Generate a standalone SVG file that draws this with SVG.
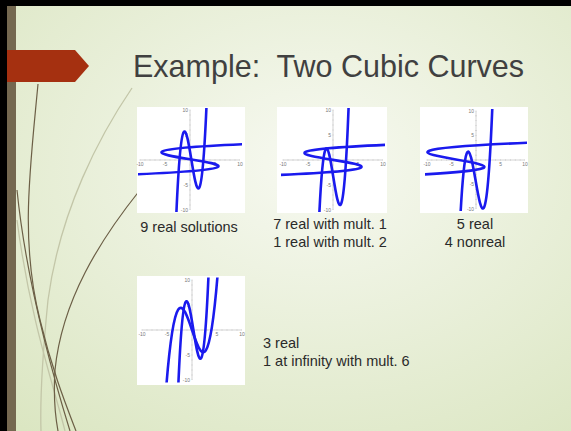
<svg xmlns="http://www.w3.org/2000/svg" xmlns:xlink="http://www.w3.org/1999/xlink" width="571" height="431" viewBox="0 0 571 431">
<style>
.curve{fill:none;stroke:#1a1aee;stroke-width:2.6;vector-effect:non-scaling-stroke;stroke-linecap:round}
.ax{stroke:#b5b5b5;stroke-width:0.6}
.tk{stroke:#c4c4c4;stroke-width:1.6;stroke-dasharray:0.6 4.4}
.al{font-family:'Liberation Sans',Arial,sans-serif;font-size:5px;fill:#777}
.lbl{font-family:'Liberation Sans',Arial,sans-serif;font-size:14.5px;fill:#2a2a2a}
.title{font-family:'Liberation Sans',Arial,sans-serif;font-size:30.5px;fill:#404040;white-space:pre}
.wd{fill:none;stroke:#6c5f46;stroke-width:1.2}
.wl{fill:none;stroke:#c3c6a8;stroke-width:1.3}
.box{fill:#ffffff}
</style>
<defs>
<radialGradient id="bg" cx="0.55" cy="0.38" r="0.8">
<stop offset="0" stop-color="#f7f9f1"/>
<stop offset="1" stop-color="#dbe6c2"/>
</radialGradient>
<clipPath id="dc"><rect x="-10.4" y="-10.4" width="20.8" height="20.8"/></clipPath>
<g id="axes">
<line class="ax" x1="-50" y1="0" x2="50" y2="0"/>
<line class="ax" x1="0" y1="-50" x2="0" y2="50"/>
<line class="tk" x1="-50.3" y1="0" x2="50" y2="0"/>
<line class="tk" x1="0" y1="-50.3" x2="0" y2="50"/>
<text class="al" x="-50" y="6" text-anchor="middle">-10</text>
<text class="al" x="-25" y="6" text-anchor="middle">-5</text>
<text class="al" x="25" y="6" text-anchor="middle">5</text>
<text class="al" x="50" y="6" text-anchor="middle">10</text>
<text class="al" x="-2" y="-48" text-anchor="end">10</text>
<text class="al" x="-2" y="-23" text-anchor="end">5</text>
<text class="al" x="-2" y="27" text-anchor="end">-5</text>
<text class="al" x="-2" y="52" text-anchor="end">-10</text>
</g>
</defs>
<rect width="571" height="431" fill="url(#bg)"/>
<rect x="0" y="0" width="7" height="431" fill="#000"/>
<rect x="7" y="0" width="9" height="431" fill="#746850"/>
<rect x="0" y="0" width="571" height="6" fill="#000"/>
<g id="wisp">
<path class="wl" d="M132,88 C100,135 60,210 48,300 C42,360 40,400 41,431"/>
<path class="wl" d="M17,220 C30,320 55,390 65,431"/>
<path class="wd" d="M140,190 C100,240 62,300 55,370 C53,400 56,420 58,431"/>
<path class="wd" d="M38,84 C30,170 20,240 40,320 C52,370 66,405 76,431"/>
<path class="wd" d="M17,190 C25,270 45,350 70,431"/>
</g>
<polygon id="arrow" points="7,50 75,50 89,66 75,82 7,82" fill="#a53010"/>
<text id="title" class="title" x="133" y="77">Example:  Two Cubic Curves</text>
<g id="plot1">
<rect class="box" x="137" y="107" width="108" height="106"/>
<use xlink:href="#axes" transform="translate(190,160)"/>
<g transform="translate(190,160) scale(5,-5)"><g clip-path="url(#dc)">
<path class="curve" transform="translate(0.285,0)" d="M-3.1,-12.83 C-1.0333,38.34 1.0333,-38.34 3.1,12.83"/>
<path class="curve" transform="translate(0,0.15)" d="M-12.83,-3.1 C38.34,-1.0333 -38.34,1.0333 12.83,3.1"/>
</g></g>
<text class="lbl" x="189" y="232" text-anchor="middle">9 real solutions</text>
</g>
<g id="plot2">
<rect class="box" x="277" y="107" width="110" height="106"/>
<use xlink:href="#axes" transform="translate(333,160)"/>
<g transform="translate(333,160) scale(5,-5)"><g clip-path="url(#dc)">
<path class="curve" transform="translate(0.05,-3.35)" d="M-3.2,-17.53 C-1.0667,44.32 1.0667,-44.32 3.2,17.53"/>
<path class="curve" transform="translate(0,0.02)" d="M-12.83,-3.1 C38.34,-1.0333 -38.34,1.0333 12.83,3.1"/>
</g></g>
<text class="lbl" x="330" y="229" text-anchor="middle">7 real with mult. 1</text>
<text class="lbl" x="330" y="247" text-anchor="middle">1 real with mult. 2</text>
</g>
<g id="plot3">
<rect class="box" x="420" y="107" width="108" height="106"/>
<use xlink:href="#axes" transform="translate(476,160) scale(0.98)"/>
<g transform="translate(476,160) scale(4.9,-4.9)"><g clip-path="url(#dc)">
<path class="curve" transform="translate(-0.1,-4.1)" d="M-3.6,-19.2 C-1.2,47.04 1.2,-47.04 3.6,19.2"/>
<path class="curve" transform="translate(-4.1,0.1)" d="M-19.2,-3.6 C47.04,-1.2 -47.04,1.2 19.2,3.6"/>
</g></g>
<text class="lbl" x="475" y="229" text-anchor="middle">5 real</text>
<text class="lbl" x="475" y="247" text-anchor="middle">4 nonreal</text>
</g>
<g id="plot4">
<rect class="box" x="137" y="276" width="108" height="109"/>
<use xlink:href="#axes" transform="translate(192,330)"/>
<g transform="translate(192,330) scale(5,-5.05)"><g clip-path="url(#dc)">
<path class="curve" d="M-5.5,-15.99 C-1.8333,37.47 1.8333,-37.47 5.5,15.99"/>
<path class="curve" transform="translate(0.285,0)" d="M-3.1,-12.83 C-1.0333,38.34 1.0333,-38.34 3.1,12.83"/>
</g></g>
<text class="lbl" x="263" y="348">3 real</text>
<text class="lbl" x="263" y="366">1 at infinity with mult. 6</text>
</g>
</svg>
